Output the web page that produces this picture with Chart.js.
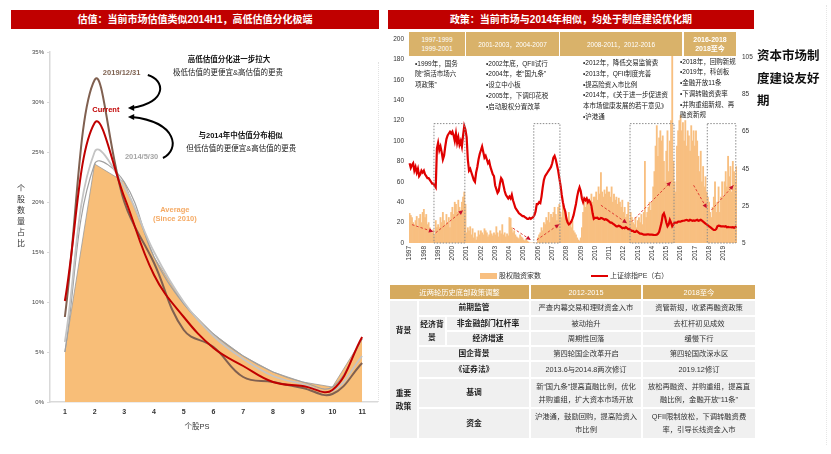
<!DOCTYPE html>
<html>
<head>
<meta charset="utf-8">
<script src="https://cdn.jsdelivr.net/npm/chart.js@4.4.1/dist/chart.umd.min.js"></script>
<style>
  body { margin: 0; width: 831px; height: 454px; overflow: hidden; background: #fff; position: relative;
         font-family: "Liberation Sans", "Noto Sans CJK SC", sans-serif; color: #222; }
  .abs { position: absolute; }
  .titlebar { position: absolute; background: #C00000; color: #fff; font-weight: bold; font-size: 10px;
              height: 19px; line-height: 19px; text-align: center; }
  .hbox { position: absolute; background: #D9B26A; color: #fff; font-size: 6.5px; line-height: 9px;
          display: flex; align-items: center; justify-content: center; text-align: center; }
  .bullets { position: absolute; font-size: 6.5px; line-height: 10.8px; color: #1a1a1a; white-space: nowrap; }
  #tbl { position: absolute; left: 388px; top: 283px; border-collapse: separate; border-spacing: 2px;
         table-layout: fixed; font-size: 7.3px; color: #333; }
  #tbl th { background: #D6AA5E; color: #fff; font-weight: normal; height: 14px; padding: 0; }
  #tbl td { background: #F0F0F0; text-align: center; padding: 0 3px; line-height: 13px; }
  #tbl td.lb { font-weight: bold; color: #222; font-size: 7.8px; padding: 0 1px; }
</style>
</head>
<body>

<div class="titlebar" style="left:11px; top:10px; width:368px;">估值：当前市场估值类似2014H1，高低估值分化极端</div>
<div class="titlebar" style="left:388px; top:10px; width:366px;">政策：当前市场与2014年相似，均处于制度建设优化期</div>

<div class="abs" style="left:0; top:35px; width:385px; height:405px;"><canvas id="psChart"></canvas></div>
<div class="abs" style="left:16px; top:183px; width:10px; font-size:8px; line-height:11px; text-align:center; color:#333;">个<br>股<br>数<br>量<br>占<br>比</div>
<div class="abs" style="left:167px; top:421px; width:60px; font-size:7.5px; line-height:11px; text-align:center; color:#333;">个股PS</div>
<div class="abs" style="left:378px; top:62px; height:340px; border-left:1px dotted #e2e2e2;"></div>

<div class="abs" style="left:388px; top:30px; width:375px; height:245px;"><canvas id="policyChart"></canvas></div>

<div class="hbox" style="left:409px; top:32px; width:56px; height:24px;">1997-1999<br>1999-2001</div>
<div class="hbox" style="left:466px; top:32px; width:93px; height:24px;">2001-2003，2004-2007</div>
<div class="hbox" style="left:560px; top:32px; width:122px; height:24px;">2008-2011，2012-2016</div>
<div class="hbox" style="left:684px; top:32px; width:52px; height:24px; font-weight:bold; font-size:7px;">2016-2018<br>2018至今</div>

<div class="bullets" style="left:415px; top:58.5px;">•1999年，国务<br>院“搞活市场六<br>项政策”</div>
<div class="bullets" style="left:486px; top:58.5px;">•2002年底，QFII试行<br>•2004年，老“国九条”<br>•设立中小板<br>•2005年，下调印花税<br>•启动股权分置改革</div>
<div class="bullets" style="left:583px; top:58px;">•2012年，降低交易监管费<br>•2013年，QFII制度完善<br>•提高险资入市比例<br>•2014年，《关于进一步促进资<br>本市场健康发展的若干意见》<br>•沪港通</div>
<div class="bullets" style="left:680px; top:56.5px;">•2018年，回购新规<br>•2019年，科创板<br>•金融开放11条<br>•下调转融资费率<br>•并购重组新规、再<br>融资新规</div>

<div class="abs" style="left:757px; top:45px; font-size:12.5px; line-height:22.5px; font-weight:bold; color:#111;">资本市场制<br>度建设友好<br>期</div>
<div class="abs" style="left:826px; top:5px; height:440px; border-left:1px dotted #e6e6e6;"></div>

<div class="abs" style="left:480px; top:273px; width:17px; height:6px; background:#F8BF80;"></div>
<div class="abs" style="left:499px; top:271px; font-size:7px; line-height:10px; color:#333;">股权融资家数</div>
<div class="abs" style="left:591px; top:275px; width:17px; height:2px; background:#E00000;"></div>
<div class="abs" style="left:610px; top:271px; font-size:7px; line-height:10px; color:#333;">上证综指PE（右）</div>

<table id="tbl">
  <colgroup><col style="width:27px"><col style="width:26px"><col style="width:82px"><col style="width:110px"><col style="width:112px"></colgroup>
  <tr><th colspan="3">近两轮历史底部政策调整</th><th>2012-2015</th><th>2018至今</th></tr>
  <tr style="height:13.6px"><td rowspan="4" class="lb">背景</td><td colspan="2" class="lb">前期监管</td><td>严查内幕交易和理财资金入市</td><td>资管新规，收紧再融资政策</td></tr>
  <tr style="height:13px"><td rowspan="2" class="lb">经济背景</td><td class="lb">非金融部门杠杆率</td><td>被动抬升</td><td>去杠杆初见成效</td></tr>
  <tr style="height:13.6px"><td class="lb">经济增速</td><td>周期性回落</td><td>缓慢下行</td></tr>
  <tr style="height:13px"><td colspan="2" class="lb">国企背景</td><td>第四轮国企改革开启</td><td>第四轮国改深水区</td></tr>
  <tr style="height:14.7px"><td rowspan="3" class="lb">重要<br>政策</td><td colspan="2" class="lb">《证券法》</td><td>2013.6与2014.8两次修订</td><td>2019.12修订</td></tr>
  <tr style="height:28px"><td colspan="2" class="lb">基调</td><td>新“国九条”提高直融比例，优化并购重组，扩大资本市场开放</td><td>放松再融资、并购重组，提高直融比例，金融开放“11条”</td></tr>
  <tr style="height:29px"><td colspan="2" class="lb">资金</td><td>沪港通，鼓励回购，提高险资入市比例</td><td>QFII限制放松，下调转融资费率，引导长线资金入市</td></tr>
</table>

<script>
// ---------- 左图：个股PS分布（%） ----------
const psBuckets = ['1', '2', '3', '4', '5', '6', '7', '8', '9', '10', '11'];
const shareAverage = [5.0, 23.8, 22.0, 14.5, 9.8, 6.8, 4.6, 3.0, 2.0, 1.5, 6.3];
const share20140530 = [6.0, 25.0, 21.5, 15.0, 10.0, 6.6, 4.3, 2.6, 1.8, 1.1, 4.6];
const share20191231 = [8.5, 32.2, 20.0, 13.9, 7.2, 5.5, 2.5, 2.0, 1.4, 0.8, 3.9];
const shareCurrent = [10.1, 27.9, 20.5, 12.7, 8.5, 5.4, 3.6, 2.0, 1.6, 1.2, 6.5];
const psTicks = [0, 5, 10, 15, 20, 25, 30, 35];

// 标注文字（x 为PS档位，y 为占比%）
const psNotes = [
  { text: '2019/12/31', x: 2.91, y: 32.9, color: '#7F6352', bold: true },
  { text: 'Current', x: 2.38, y: 29.2, color: '#C00000', bold: true },
  { text: '2014/5/30', x: 3.58, y: 24.5, color: '#A6A6A6', bold: true },
  { text: 'Average', x: 4.70, y: 19.2, color: '#F5AA64', bold: true },
  { text: '(Since 2010)', x: 4.70, y: 18.35, color: '#F5AA64', bold: true },
  { text: '高低估值分化进一步拉大', x: 6.52, y: 34.2, color: '#111', bold: true },
  { text: '极低估值的更便宜&高估值的更贵', x: 6.49, y: 32.9, color: '#222', bold: false },
  { text: '与2014年中估值分布相似', x: 6.91, y: 26.6, color: '#111', bold: true },
  { text: '但低估值的更便宜&高估值的更贵', x: 6.93, y: 25.3, color: '#222', bold: false }
];
const psArrows = [
  [[3.79, 32.7], [4.37, 32.2], [4.47, 30.0], [3.12, 29.4]],
  [[4.30, 24.4], [4.87, 25.2], [4.80, 28.0], [3.12, 28.5]]
];

// ---------- 右图：股权融资家数 & 上证综指PE（月度） ----------
const years = [1997, 1998, 1999, 2000, 2001, 2002, 2003, 2004, 2005, 2006, 2007, 2008,
               2009, 2010, 2011, 2012, 2013, 2014, 2015, 2016, 2017, 2018, 2019];
const equityDeals = [
  29, 27, 25, 20, 18, 22, 26, 15, 24, 28, 20, 30,   // 1997
  33, 25, 28, 18, 20, 15, 12, 10, 13, 8, 22, 15,    // 1998
  18, 15, 25, 20, 30, 22, 18, 28, 20, 25, 15, 30,   // 1999
  35, 28, 40, 38, 30, 42, 35, 32, 40, 45, 50, 38,   // 2000
  10, 15, 12, 16, 8, 14, 5, 10, 3, 6, 12, 8,        // 2001
  12, 10, 8, 14, 12, 10, 6, 8, 12, 9, 7, 10,        // 2002
  8, 16, 10, 6, 12, 9, 18, 8, 10, 6, 9, 7,          // 2003
  25, 24, 15, 10, 12, 8, 6, 5, 4, 8, 6, 5,          // 2004
  3, 2, 4, 2, 1, 0, 0, 0, 0, 0, 0, 0,               // 2005
  5, 8, 10, 15, 12, 20, 18, 25, 22, 30, 20, 28,     // 2006
  25, 30, 35, 28, 22, 35, 38, 30, 25, 37, 33, 30,   // 2007
  25, 20, 30, 18, 15, 22, 12, 10, 8, 5, 3, 2,       // 2008
  5, 15, 30, 40, 35, 45, 38, 42, 35, 48, 40, 45,    // 2009
  45, 50, 42, 55, 48, 69, 50, 45, 52, 48, 55, 50,   // 2010
  50, 45, 55, 40, 48, 42, 45, 38, 44, 40, 35, 42,   // 2011
  30, 35, 25, 28, 40, 22, 30, 25, 20, 18, 25, 15,   // 2012
  22, 25, 20, 28, 18, 30, 80, 25, 30, 35, 40, 32,   // 2013
  40, 55, 70, 95, 115, 85, 103, 110, 100, 105, 80, 60,   // 2014
  90, 110, 70, 100, 120, 185, 80, 60, 50, 95, 110, 120,  // 2015
  125, 110, 118, 100, 120, 95, 110, 105, 90, 115, 100, 110, // 2016
  95, 110, 100, 85, 70, 90, 60, 75, 55, 65, 50, 45, // 2017
  40, 30, 25, 35, 45, 60, 30, 40, 55, 30, 45, 60,   // 2018
  45, 60, 70, 55, 85, 65, 75, 50, 80, 70, 60, 75    // 2019
];
const shCompositePE = [
  48, 45.5, 47, 48, 44, 46, 43, 45, 41, 42, 44, 43,          // 1997
  44, 42, 41, 40, 40, 39, 38, 37, 37, 36, 35, 56,            // 1998
  59, 55, 57, 54, 50, 52, 57, 61, 63, 64, 65, 64,            // 1999
  65, 63, 60, 64, 59, 62, 58, 60, 57, 63, 68, 66,            // 2000
  62, 50, 44, 45, 43, 41, 39, 38, 43, 46, 50, 53,            // 2001
  55, 57, 54, 51, 52, 50, 48, 49, 46, 44, 42, 41,            // 2002
  36, 34, 32, 33, 37, 40, 39, 36, 33, 31, 30, 29,            // 2003
  30, 29, 31, 28, 26, 24, 23, 22, 21, 20.5, 20, 19.5,        // 2004
  19.5, 19, 18.5, 18, 18, 18.5, 18, 18.5, 19, 20, 22, 26,    // 2005
  26, 27, 26.5, 30, 35, 39, 41, 42, 43, 44, 45, 46,          // 2006
  48, 51, 52, 50, 47, 44, 40, 36, 31, 27, 24, 22,            // 2007
  18, 16, 15, 15.5, 16.5, 18, 20, 23, 26, 30, 33, 35,        // 2008
  33, 29, 27, 29, 28, 29, 27, 28, 27, 25, 21, 18,            // 2009
  18.5, 18.5, 18.6, 18, 18, 18.5, 18.3, 18, 17.5, 17.8, 17.5, 17, // 2010
  16.5, 16, 16, 15.5, 15, 14.5, 14, 14, 14.3, 14, 13.5, 13,  // 2011
  13.2, 13, 13.5, 13, 12.5, 12.5, 12, 11.5, 11.5, 11, 11, 11.5, // 2012
  11, 10.5, 10, 10, 9.8, 9.5, 9.5, 9.5, 9.6, 9.6, 9.5, 9.5,  // 2013
  9.5, 9.4, 9.3, 9.3, 9.5, 10, 11, 13.5, 16, 20, 21, 19,     // 2014
  16, 14, 15, 17.5, 16, 14, 15, 16, 16, 16, 16.5, 16.5,      // 2015
  16.5, 16.8, 17, 17, 17.3, 17.5, 17.2, 17, 17.5, 17.3, 17, 17.2, // 2016
  17, 17.3, 17.5, 17, 17.2, 17.5, 17, 16.5, 16, 15.5, 15, 14.5,   // 2017
  14, 13.5, 13, 12.5, 12, 12, 12.5, 14, 14.3, 14.2, 14, 14,  // 2018
  14, 13.8, 14, 13.5, 13.7, 13.5, 13.5, 13.4, 13.5, 13.2, 13.5, 14 // 2019
];
const monthLabels = years.flatMap(y => Array.from({ length: 12 }, (_, i) => y + '-' + (i + 1)));
const peTicks = [5, 25, 45, 65, 85, 105];

// 虚线框（月序号起止）与趋势箭头（月序号, 家数）
const periodBoxes = [[21, 47], [105, 127], [186, 223], [251, 275]];
const periodBoxTop = 117;
const trendArrows = [
  [2, 18, 20, 11], [22, 10, 45, 32], [87, 14.5, 102, 3], [107, 3, 126, 18.4],
  [161, 37, 183, 19.4], [187, 21, 220, 60], [239, 56.6, 250, 34], [254, 32.3, 272.6, 56.6]
];

const baseFont = '"Liberation Sans", "Noto Sans CJK SC", sans-serif';

function drawHead(ctx, x0, y0, x1, y1, size) {
  const a = Math.atan2(y1 - y0, x1 - x0);
  ctx.beginPath();
  ctx.moveTo(x1, y1);
  ctx.lineTo(x1 - size * Math.cos(a - 0.45), y1 - size * Math.sin(a - 0.45));
  ctx.lineTo(x1 - size * Math.cos(a + 0.45), y1 - size * Math.sin(a + 0.45));
  ctx.closePath();
  ctx.fill();
}

const psNotesPlugin = {
  id: 'psNotes',
  afterDatasetsDraw(chart) {
    const { ctx, scales: { x, y } } = chart;
    const px = v => x.getPixelForValue(v - 1);
    ctx.save();
    ctx.textAlign = 'center';
    ctx.textBaseline = 'middle';
    psNotes.forEach(n => {
      ctx.font = (n.bold ? 'bold ' : '') + '7.5px ' + baseFont;
      ctx.fillStyle = n.color;
      ctx.fillText(n.text, px(n.x), y.getPixelForValue(n.y));
    });
    ctx.strokeStyle = '#000';
    ctx.fillStyle = '#000';
    ctx.lineWidth = 2;
    psArrows.forEach(p => {
      const pts = p.map(([a, b]) => [px(a), y.getPixelForValue(b)]);
      ctx.beginPath();
      ctx.moveTo(pts[0][0], pts[0][1]);
      ctx.bezierCurveTo(pts[1][0], pts[1][1], pts[2][0], pts[2][1], pts[3][0] + 4, pts[3][1]);
      ctx.stroke();
      drawHead(ctx, pts[2][0], pts[2][1] + (pts[3][1] - pts[2][1]) * 0.9, pts[3][0], pts[3][1], 7);
    });
    ctx.restore();
  }
};

const policyMarksPlugin = {
  id: 'policyMarks',
  afterDatasetsDraw(chart) {
    const { ctx, scales: { x, y } } = chart;
    const step = x.getPixelForValue(1) - x.getPixelForValue(0);
    ctx.save();
    ctx.strokeStyle = '#8c8c8c';
    ctx.lineWidth = 1;
    ctx.setLineDash([1.5, 1.5]);
    periodBoxes.forEach(([m0, m1]) => {
      const l = x.getPixelForValue(m0) - step / 2;
      const r = x.getPixelForValue(m1) - step / 2;
      const t = y.getPixelForValue(periodBoxTop);
      const b = y.getPixelForValue(0);
      ctx.strokeRect(l, t, r - l, b - t);
    });
    ctx.strokeStyle = '#E03C31';
    ctx.fillStyle = '#C8102E';
    ctx.setLineDash([2.5, 2]);
    trendArrows.forEach(([m0, v0, m1, v1]) => {
      const x0 = x.getPixelForValue(m0), y0 = y.getPixelForValue(v0);
      const x1 = x.getPixelForValue(m1), y1 = y.getPixelForValue(v1);
      ctx.beginPath();
      ctx.moveTo(x0, y0);
      ctx.lineTo(x1, y1);
      ctx.stroke();
      drawHead(ctx, x0, y0, x1, y1, 5);
    });
    ctx.restore();
  }
};

new Chart(document.getElementById('psChart'), {
  type: 'line',
  data: {
    labels: psBuckets,
    datasets: [
      { label: 'Current', data: shareCurrent, borderColor: '#C00000', borderWidth: 2, tension: 0.4, pointRadius: 0, fill: false, order: 1 },
      { label: '2019/12/31', data: share20191231, borderColor: '#806050', borderWidth: 2, tension: 0.4, pointRadius: 0, fill: false, order: 2 },
      { label: '2014/5/30', data: share20140530, borderColor: '#C4C4C4', borderWidth: 1.8, tension: 0.4, pointRadius: 0, fill: false, order: 3 },
      { label: 'Average', data: shareAverage, borderColor: '#A0A0A0', borderWidth: 1.2, tension: 0.4, pointRadius: 0, fill: false, order: 4 },
      { label: 'Average area', data: shareAverage, borderColor: '#9a9a9a', borderWidth: 0.8, backgroundColor: '#F8BE78', tension: 0, pointRadius: 0, fill: 'origin', order: 9 }
    ]
  },
  options: {
    responsive: true,
    maintainAspectRatio: false,
    animation: false,
    layout: { padding: { top: 17, right: 8, left: 0, bottom: 0 } },
    plugins: { legend: { display: false }, tooltip: { enabled: false } },
    scales: {
      x: {
        offset: true,
        grid: { display: false, drawTicks: false },
        border: { color: '#D9D9D9', width: 1.5 },
        ticks: { color: '#333', font: { size: 7, family: baseFont, weight: 'bold' }, padding: 6 },
        afterFit(s) { s.height = 38; }
      },
      y: {
        min: 0, max: 35,
        afterBuildTicks(s) { s.ticks = psTicks.map(v => ({ value: v })); },
        grid: { drawOnChartArea: false, tickLength: 3, color: '#D9D9D9' },
        border: { color: '#D9D9D9', width: 1.5 },
        ticks: { color: '#444', font: { size: 6, family: baseFont }, padding: 3, callback: v => v + '%' },
        afterFit(s) { s.width = 50; }
      }
    }
  },
  plugins: [psNotesPlugin]
});

new Chart(document.getElementById('policyChart'), {
  type: 'bar',
  data: {
    labels: monthLabels,
    datasets: [
      { type: 'line', label: '上证综指PE（右）', data: shCompositePE, yAxisID: 'y1', borderColor: '#E00000', borderWidth: 2.2, pointRadius: 0, tension: 0, order: 0 },
      { type: 'bar', label: '股权融资家数', data: equityDeals, yAxisID: 'y', backgroundColor: '#F8BF80', barPercentage: 1, categoryPercentage: 1, order: 1 }
    ]
  },
  options: {
    responsive: true,
    maintainAspectRatio: false,
    animation: false,
    layout: { padding: { top: 7, right: 0, left: 0, bottom: 0 } },
    plugins: { legend: { display: false }, tooltip: { enabled: false } },
    scales: {
      x: {
        grid: { display: false, drawTicks: false },
        border: { display: false },
        ticks: {
          autoSkip: false, minRotation: 90, maxRotation: 90, padding: 3,
          color: '#333', font: { size: 6.5, family: baseFont },
          callback: (v, i) => (i % 12 === 0 ? String(years[i / 12]) : '')
        },
        afterFit(s) { s.height = 32; }
      },
      y: {
        position: 'left', min: 0, max: 200,
        grid: { display: false, drawTicks: false },
        border: { display: false },
        ticks: { stepSize: 20, color: '#333', font: { size: 6.5, family: baseFont }, padding: 5 },
        afterFit(s) { s.width = 21; }
      },
      y1: {
        position: 'right', min: 5, max: 115,
        grid: { display: false, drawTicks: false },
        border: { display: false },
        afterBuildTicks(s) { s.ticks = peTicks.map(v => ({ value: v })); },
        ticks: { color: '#333', font: { size: 6.5, family: baseFont }, padding: 5 },
        afterFit(s) { s.width = 26; }
      }
    }
  },
  plugins: [policyMarksPlugin]
});
</script>
</body>
</html>
